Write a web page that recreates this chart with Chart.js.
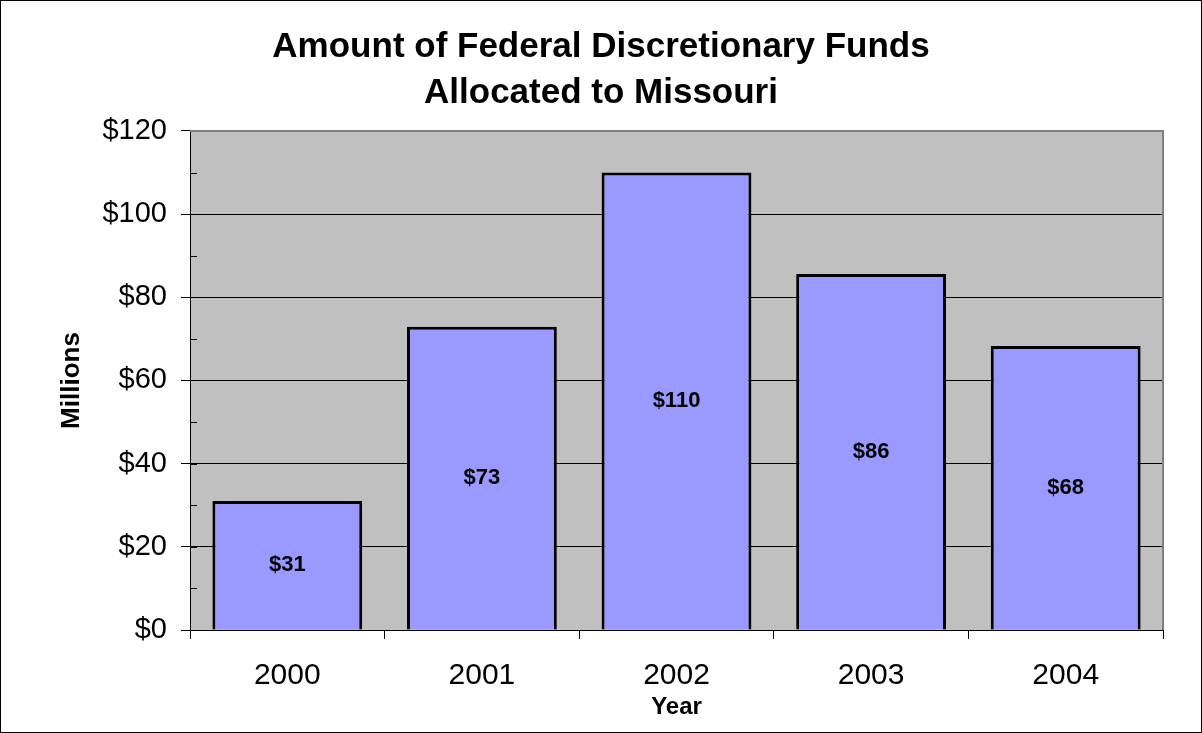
<!DOCTYPE html>
<html>
<head>
<meta charset="utf-8">
<script src="https://cdn.jsdelivr.net/npm/chart.js@4/dist/chart.umd.min.js"></script>
<style>
  html, body { margin: 0; padding: 0; background: #fff; }
  canvas { display: block; }
</style>
</head>
<body>
<canvas id="chart" width="1202" height="733"></canvas>
<script>
const years = ['2000', '2001', '2002', '2003', '2004'];
const funds = [31, 72.9, 110, 85.6, 68.3];
const titleLines = ['Amount of Federal Discretionary Funds', 'Allocated to Missouri'];
const FONT = "'Liberation Sans', Arial, sans-serif";

// plot background, minor ticks, frame, value labels
const decor = {
  id: 'decor',
  beforeDraw(chart) {
    const { ctx, chartArea: a } = chart;
    ctx.save();
    ctx.fillStyle = '#C0C0C0';
    ctx.fillRect(a.left, a.top, a.right - a.left, a.bottom - a.top);
    ctx.restore();
  },
  afterDatasetsDraw(chart) {
    const { ctx, chartArea: a } = chart;
    const y = chart.scales.y;
    ctx.save();
    ctx.strokeStyle = '#000';
    ctx.lineWidth = 1;
    for (let v = 0; v <= 120; v += 10) {
      const py = Math.round(y.getPixelForValue(v)) + 0.5;
      ctx.beginPath();
      ctx.moveTo(a.left, py);
      ctx.lineTo(a.left + 7, py);
      ctx.stroke();
    }
    // frame top/right
    ctx.strokeStyle = '#808080';
    ctx.lineWidth = 2;
    ctx.beginPath();
    ctx.moveTo(a.left, a.top);
    ctx.lineTo(a.right, a.top);
    ctx.lineTo(a.right, a.bottom);
    ctx.stroke();
    // value labels
    const meta = chart.getDatasetMeta(0);
    ctx.fillStyle = '#000';
    ctx.font = 'bold 22px ' + FONT;
    ctx.textAlign = 'center';
    ctx.textBaseline = 'middle';
    meta.data.forEach((bar, i) => {
      const mid = (bar.y + bar.base) / 2;
      ctx.fillText('$' + Math.round(funds[i]), bar.x, mid);
    });
    ctx.restore();
  },
  afterDraw(chart) {
    const { ctx, width, height } = chart;
    ctx.save();
    ctx.strokeStyle = '#000';
    ctx.lineWidth = 1;
    ctx.strokeRect(0.5, 0.5, width - 1, height - 1);
    ctx.restore();
  }
};

new Chart(document.getElementById('chart'), {
  type: 'bar',
  data: {
    labels: years,
    datasets: [{
      data: funds,
      backgroundColor: '#9999FF',
      borderColor: '#000',
      borderWidth: 3,
      barPercentage: 0.77,
      categoryPercentage: 1
    }]
  },
  options: {
    responsive: false,
    animation: false,
    layout: { padding: { left: 39, right: 39, top: 0, bottom: 0 } },
    plugins: {
      legend: { display: false },
      tooltip: { enabled: false },
      title: {
        display: true,
        text: titleLines,
        color: '#000',
        font: { family: FONT, size: 35, weight: 'bold', lineHeight: 1.314 },
        padding: { top: 24, bottom: 15 }
      }
    },
    scales: {
      x: {
        grid: { offset: true, drawOnChartArea: false, color: '#000', tickLength: 9 },
        border: { color: '#000', width: 1 },
        ticks: { color: '#000', font: { family: FONT, size: 30 }, padding: 19 },
        title: {
          display: true, text: 'Year', color: '#000',
          font: { family: FONT, size: 24, weight: 'bold' },
          padding: { top: 0, bottom: 11 }
        },
        afterFit: s => { s.height = 103; }
      },
      y: {
        min: 0, max: 120,
        grid: { color: '#000', tickColor: '#000', tickLength: 9 },
        border: { color: '#000', width: 1 },
        ticks: {
          stepSize: 20, color: '#000', padding: 14,
          font: { family: FONT, size: 29 },
          callback: v => '$' + v
        },
        title: {
          display: true, text: 'Millions', color: '#000',
          font: { family: FONT, size: 26, weight: 'bold' },
          padding: { top: 17, bottom: 0 }
        },
        afterFit: s => { s.width = 151; }
      }
    }
  },
  plugins: [decor]
});
</script>
</body>
</html>
